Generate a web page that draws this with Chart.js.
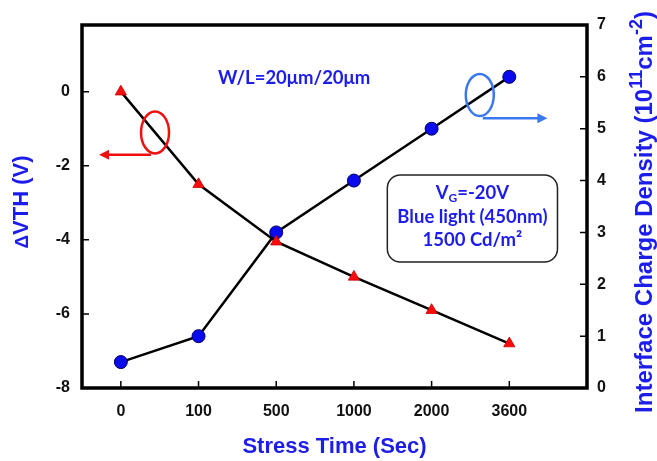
<!DOCTYPE html>
<html lang="en">
<head>
  <meta charset="UTF-8">
  <title>Stress Time vs dVth</title>
  <script src="https://cdn.jsdelivr.net/npm/chart.js"></script>
  <style>
    body { margin: 0; background: #fff; }
  </style>
</head>
<body>
  <canvas id="stressChart" width="657" height="461"></canvas>

  <script>
    // values
    const stressTimes = ['0', '100', '500', '1000', '2000', '3600'];
    const deltaVth = [0, -2.5, -4.05, -5.0, -5.9, -6.8];
    const chargeDensity = [0.5, 1.0, 3.0, 4.0, 5.0, 6.0];
    const leftTicks = [-8, -6, -4, -2, 0];
    const rightTicks = [0, 1, 2, 3, 4, 5, 6, 7];

    const titleBlue = 'rgb(28,28,235)';
    const arial = '"Liberation Sans", Arial, sans-serif';
    const calib = 'Lato, "Open Sans", sans-serif';

    // draw a run of [text, size, dy] pieces centred at 0 on the current baseline
    function drawPieces(ctx, pieces, family) {
      ctx.textAlign = 'left';
      const widths = pieces.map(p => {
        ctx.font = 'bold ' + p[1] + 'px ' + family;
        return ctx.measureText(p[0]).width;
      });
      let x = -widths.reduce((s, w) => s + w, 0) / 2;
      pieces.forEach((p, i) => {
        ctx.font = 'bold ' + p[1] + 'px ' + family;
        ctx.fillText(p[0], x, p[2]);
        x += widths[i];
      });
    }

    // inward ticks + frame + annotations
    const decorPlugin = {
      id: 'decor',
      afterDatasetsDraw(chart) {
        const ctx = chart.ctx;
        const a = chart.chartArea;
        const sx = chart.scales.x, yl = chart.scales.y, yr = chart.scales.y2;
        ctx.save();
        ctx.strokeStyle = '#000';
        ctx.lineWidth = 1.5;
        ctx.beginPath();
        stressTimes.forEach((t, i) => {
          const px = sx.getPixelForValue(i);
          ctx.moveTo(px, a.bottom); ctx.lineTo(px, a.bottom - 7);
        });
        leftTicks.forEach(v => {
          const py = yl.getPixelForValue(v);
          ctx.moveTo(a.left, py); ctx.lineTo(a.left + 7, py);
        });
        rightTicks.forEach(v => {
          const py = yr.getPixelForValue(v);
          ctx.moveTo(a.right, py); ctx.lineTo(a.right - 7, py);
        });
        ctx.stroke();

        ctx.lineWidth = 3.5;
        ctx.strokeRect(a.left, a.top, a.right - a.left, a.bottom - a.top);

        // red ellipse + arrow (left axis)
        const rcx = sx.getPixelForValue(0.44), rcy = yl.getPixelForValue(-1.1);
        ctx.strokeStyle = '#f01010';
        ctx.fillStyle = '#f01010';
        ctx.lineWidth = 2.5;
        ctx.beginPath();
        ctx.ellipse(rcx, rcy, 14, 21, 0, 0, Math.PI * 2);
        ctx.stroke();
        const ray = yl.getPixelForValue(-1.7), rax = sx.getPixelForValue(-0.28);
        ctx.beginPath();
        ctx.moveTo(rcx - 4, ray); ctx.lineTo(rax + 8, ray);
        ctx.stroke();
        ctx.beginPath();
        ctx.moveTo(rax, ray); ctx.lineTo(rax + 10, ray - 5); ctx.lineTo(rax + 10, ray + 5);
        ctx.closePath(); ctx.fill();

        // blue ellipse + arrow (right axis)
        const bcx = sx.getPixelForValue(4.62), bcy = yr.getPixelForValue(5.65);
        ctx.strokeStyle = '#3a78f0';
        ctx.fillStyle = '#3a78f0';
        ctx.beginPath();
        ctx.ellipse(bcx, bcy, 14, 21, 0, 0, Math.PI * 2);
        ctx.stroke();
        const bay = yr.getPixelForValue(5.2), bax = sx.getPixelForValue(5.49);
        ctx.beginPath();
        ctx.moveTo(bcx + 3, bay); ctx.lineTo(bax - 8, bay);
        ctx.stroke();
        ctx.beginPath();
        ctx.moveTo(bax, bay); ctx.lineTo(bax - 10, bay - 5); ctx.lineTo(bax - 10, bay + 5);
        ctx.closePath(); ctx.fill();

        // W/L label
        ctx.fillStyle = titleBlue;
        ctx.textAlign = 'center';
        ctx.textBaseline = 'middle';
        ctx.font = 'bold 18.5px ' + calib;
        ctx.fillText('W/L=20μm/20μm', sx.getPixelForValue(2.23), yl.getPixelForValue(0.38));

        // condition box
        const bx0 = sx.getPixelForValue(3.43), bx1 = sx.getPixelForValue(5.62);
        const by0 = yl.getPixelForValue(-2.25), by1 = yl.getPixelForValue(-4.6);
        ctx.strokeStyle = '#222';
        ctx.lineWidth = 1.5;
        ctx.beginPath();
        ctx.roundRect(bx0, by0, bx1 - bx0, by1 - by0, 13);
        ctx.stroke();
        const cx = (bx0 + bx1) / 2;
        ctx.font = 'bold 18.5px ' + calib;
        ctx.fillText('Blue light (450nm)', cx, by0 + 42);
        ctx.fillText('1500 Cd/m²', cx, by0 + 65);
        ctx.save();
        ctx.translate(cx, by0 + 18);
        drawPieces(ctx, [['V', 18.5, 0], ['G', 12, 5], ['=-20V', 18.5, 0]], calib);
        ctx.restore();

        // axis titles drawn by hand (sub/superscripts)
        ctx.textBaseline = 'alphabetic';
        ctx.save();
        ctx.translate(28, 202);
        ctx.rotate(-Math.PI / 2);
        drawPieces(ctx, [['Δ', 19, 0], ['VTH (V)', 22, 0]], arial);
        ctx.restore();

        ctx.save();
        ctx.translate(652, 212);
        ctx.rotate(-Math.PI / 2);
        drawPieces(ctx, [
          ['Interface Charge Density (10', 24, 0],
          ['11', 18, -10],
          ['cm', 24, 0],
          ['-2', 18, -10],
          [')', 24, 0],
        ], arial);
        ctx.restore();
        ctx.restore();
      }
    };

    const tickFont = { family: arial, size: 16, weight: 'bold' };

    const ctx = document.getElementById('stressChart').getContext('2d');
    const chart = new Chart(ctx, {
      type: 'line',
      data: {
        datasets: [
          {
            label: 'ΔVTH',
            data: deltaVth.map((v, i) => ({ x: i, y: v })),
            yAxisID: 'y',
            borderColor: '#000',
            borderWidth: 2.5,
            pointStyle: 'triangle',
            pointRadius: 6.5,
            pointBackgroundColor: '#ff0a0a',
            pointBorderColor: '#c00000',
            pointBorderWidth: 0.8,
            fill: false,
          },
          {
            label: 'Interface Charge Density',
            data: chargeDensity.map((v, i) => ({ x: i, y: v })),
            yAxisID: 'y2',
            borderColor: '#000',
            borderWidth: 2.5,
            pointStyle: 'circle',
            pointRadius: 6.5,
            pointBackgroundColor: '#0a0aee',
            pointBorderColor: '#000060',
            pointBorderWidth: 1,
            fill: false,
          },
        ],
      },
      options: {
        responsive: false,
        animation: false,
        layout: { padding: { top: 25 } },
        plugins: { legend: { display: false }, tooltip: { enabled: false } },
        scales: {
          x: {
            type: 'linear',
            min: -0.5,
            max: 6,
            afterBuildTicks: s => { s.ticks = stressTimes.map((t, i) => ({ value: i })); },
            afterFit: s => { s.height = 73; },
            grid: { display: false, drawTicks: false },
            border: { display: false },
            ticks: {
              color: '#111',
              font: tickFont,
              padding: 14,
              maxRotation: 0,
              callback: v => stressTimes[v] ?? '',
            },
            title: {
              display: true,
              text: 'Stress Time (Sec)',
              color: titleBlue,
              font: { family: arial, size: 22, weight: 'bold' },
              padding: { top: 0, bottom: 1 },
            },
          },
          y: {
            position: 'left',
            min: -8,
            max: 1.8,
            afterBuildTicks: s => { s.ticks = leftTicks.map(v => ({ value: v })); },
            afterFit: s => { s.width = 82; },
            grid: { display: false, drawTicks: false },
            border: { display: false },
            ticks: { color: '#111', font: tickFont, padding: 12 },
          },
          y2: {
            position: 'right',
            min: 0,
            max: 7,
            afterBuildTicks: s => { s.ticks = rightTicks.map(v => ({ value: v })); },
            afterFit: s => { s.width = 70; },
            grid: { display: false, drawTicks: false },
            border: { display: false },
            ticks: { color: '#111', font: tickFont, padding: 10 },
          },
        },
      },
      plugins: [decorPlugin],
    });
  </script>
</body>
</html>
